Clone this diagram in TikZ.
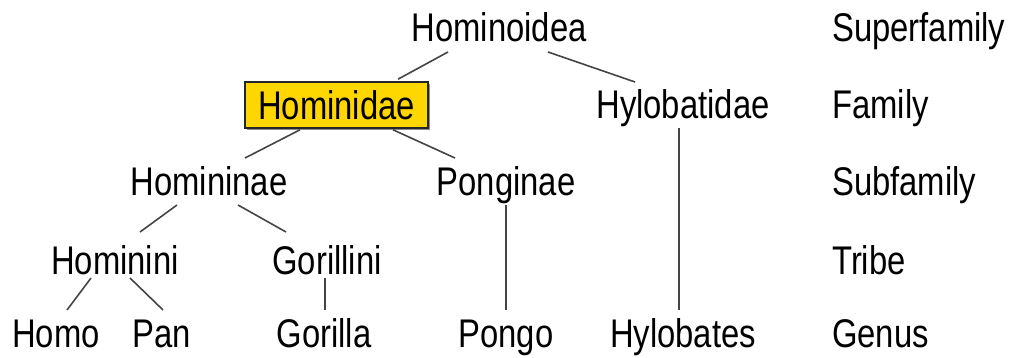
\documentclass[tikz,border=0pt]{standalone}
\usepackage{fontspec}
\setmainfont{Liberation Sans}[FakeStretch=0.82]
\definecolor{boxyellow}{HTML}{FFD700}
\definecolor{linegray}{HTML}{444444}
\begin{document}
\begin{tikzpicture}[x=1pt,y=-1pt,
  taxon/.style={inner sep=0pt,anchor=base,font=\fontsize{40}{44}\selectfont},
  rank/.style={inner sep=0pt,anchor=base west,font=\fontsize{40}{44}\selectfont},
  famchosen/.style={draw=black!85,line width=1.6pt,fill=boxyellow,inner sep=0pt,
     minimum width=183pt,minimum height=46pt,font=\fontsize{40}{44}\selectfont},
  link/.style={draw=linegray,line width=1.6pt}]
\useasboundingbox (0,0) rectangle (1014,358);
% nodes
\node[taxon] (hoid) at (499,42) {Hominoidea};
\fill[black!45] (247,84) rectangle (430,130);
\node[famchosen] (hidae) at (336.5,105) {Hominidae};
\node[taxon] (hyl) at (683,119) {Hylobatidae};
\node[taxon] (hinae) at (209,196) {Homininae};
\node[taxon] (pong) at (506,196) {Ponginae};
\node[taxon] (hini) at (115,274) {Hominini};
\node[taxon] (gini) at (327,274) {Gorillini};
\node[taxon] (homo) at (56,347) {Homo};
\node[taxon] (pan) at (162,347) {Pan};
\node[taxon] (gor) at (324,347) {Gorilla};
\node[taxon] (pongo) at (506,347) {Pongo};
\node[taxon] (hylo) at (683,347) {Hylobates};
% ranks
\node[rank] (r1) at (832,42) {Superfamily};
\node[rank] (r2) at (832,119) {Family};
\node[rank] (r3) at (832,196) {Subfamily};
\node[rank] (r4) at (832,274) {Tribe};
\node[rank] (r5) at (832,347) {Genus};
% connectors
\draw[link] ([xshift=-51pt,yshift=-10pt]hoid.base) -- ([xshift=61.5pt,yshift=2pt]hidae.north);
\draw[link] ([xshift=49pt,yshift=-10pt]hoid.base) -- ([xshift=-48pt,yshift=37pt]hyl.base);
\draw[link] ([xshift=-36.5pt,yshift=-1pt]hidae.south) -- ([xshift=36pt,yshift=38pt]hinae.base);
\draw[link] ([xshift=56.5pt,yshift=-1pt]hidae.south) -- ([xshift=-51pt,yshift=38pt]pong.base);
\draw[link] ([xshift=-32pt,yshift=-9pt]hinae.base) -- ([xshift=25pt,yshift=42pt]hini.base);
\draw[link] ([xshift=29pt,yshift=-9pt]hinae.base) -- ([xshift=-41pt,yshift=42pt]gini.base);
\draw[link] ([xshift=-24pt,yshift=-4pt]hini.base) -- ([xshift=11pt,yshift=37pt]homo.base);
\draw[link] ([xshift=15pt,yshift=-4pt]hini.base) -- ([xshift=1pt,yshift=37pt]pan.base);
\draw[link] ([xshift=-2pt,yshift=-4pt]gini.base) -- ([xshift=1pt,yshift=37pt]gor.base);
\draw[link] ([yshift=-9pt]pong.base) -- ([yshift=37pt]pongo.base);
\draw[link] ([xshift=-4pt,yshift=-9pt]hyl.base) -- ([xshift=-4pt,yshift=37pt]hylo.base);
\end{tikzpicture}
\end{document}
